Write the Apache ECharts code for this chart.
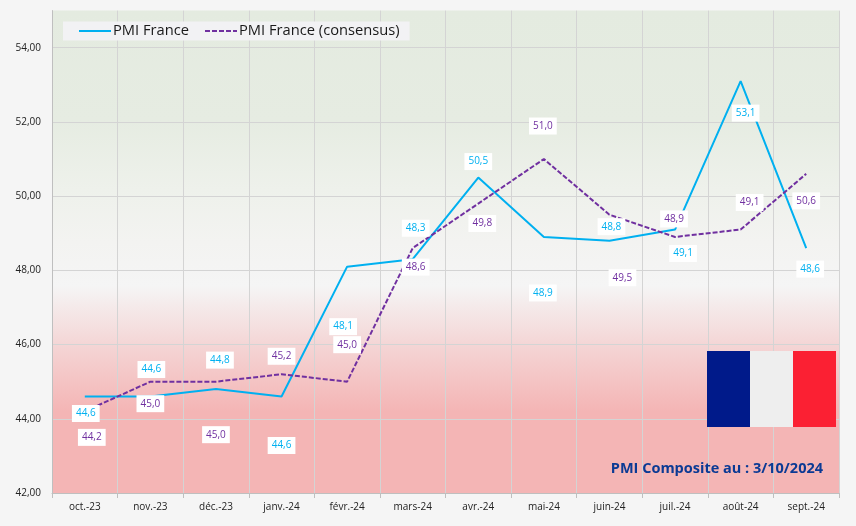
<!DOCTYPE html>
<html><head><meta charset="utf-8">
<style>html,body{margin:0;padding:0;background:#f5f5f5}#c{width:856px;height:526px}</style>
<script src="https://cdn.jsdelivr.net/npm/echarts@6/dist/echarts.min.js"></script>
</head><body><div id="c"></div>
<script>
const categories = ['oct.-23','nov.-23','déc.-23','janv.-24','févr.-24','mars-24','avr.-24','mai-24','juin-24','juil.-24','août-24','sept.-24'];
const pmiFrance = [44.6,44.6,44.8,44.6,48.1,48.3,50.5,48.9,48.8,49.1,53.1,48.6];
const pmiConsensus = [44.2,45.0,45.0,45.2,45.0,48.6,49.8,51.0,49.5,48.9,49.1,50.6];
const yTicks = {min:42,max:55,interval:2};
// label displacement from each point (the labels were hand-placed in the source chart)
const pmiLabelOffsets = [[1,17],[1,-27],[4,-29],[0,49],[-4,60],[3,-31],[0,-16],[-1,56],[2,-14],[8,24],[5,32],[4,21]];
const consensusLabelOffsets = [[7,26],[0,22],[0,53],[0,-18],[0,-37],[3,19],[4,20],[-1,-33],[13,63],[-1,-18],[9,-27],[0,27]];
const font = '"Open Sans","Noto Sans",sans-serif';
const BLUE='#00b0f0', PURPLE='#7030a0';
function makeLabel(color){
  return {show:true,position:'inside',color,backgroundColor:'#ffffff',fontFamily:font,fontSize:10,
    padding:[3.5,4,3.5,4],formatter:p=>p.value.toFixed(1).replace('.',',')};
}
function layoutFrom(offs){
  return p=>({dx:offs[p.dataIndex][0],dy:offs[p.dataIndex][1],hideOverlap:false});
}
const chart = echarts.init(document.getElementById('c'),null,{renderer:'canvas'});
chart.setOption({
  animation:false,
  backgroundColor:'#f5f5f5',
  grid:{left:52,right:17,top:10.6,bottom:33,show:true,borderWidth:0,
    backgroundColor:new echarts.graphic.LinearGradient(0,0,0,1,[
      {offset:0,color:'#e4ebe0'},{offset:0.23,color:'#e6ece2'},{offset:0.37,color:'#eef1eb'},{offset:0.48,color:'#f3f3f1'},
      {offset:0.57,color:'#f5f5f5'},{offset:0.695,color:'#f4d5d5'},{offset:0.83,color:'#f4b5b5'},{offset:1,color:'#f4b5b5'}])},
  legend:{left:63,top:21.5,padding:[2,10,2,15],itemGap:15,itemWidth:32,itemHeight:16,backgroundColor:'#f2f2f4',
    itemStyle:{opacity:0},
    textStyle:{fontFamily:font,fontSize:14.7,color:'#1a1a1a',padding:[0,0,0,-3]},data:['PMI France','PMI France (consensus)']},
  xAxis:{type:'category',data:categories,boundaryGap:true,
    axisLine:{show:true,lineStyle:{color:'#bfbfbf',width:1}},
    axisTick:{show:true,alignWithLabel:false,length:5,lineStyle:{color:'#bfbfbf'}},
    axisLabel:{interval:0,color:'#222',fontFamily:font,fontSize:10,margin:9},
    splitLine:{show:true,interval:0,lineStyle:{color:'#d4d4d4',width:1}}},
  yAxis:{type:'value',min:yTicks.min,max:yTicks.max,interval:yTicks.interval,
    axisLine:{show:true,lineStyle:{color:'#bfbfbf',width:1}},axisTick:{show:false},
    axisLabel:{color:'#222',fontFamily:font,fontSize:10,margin:11,showMaxLabel:false,
      formatter:v=>v.toFixed(2).replace('.',',')},
    splitLine:{show:true,showMaxLine:false,lineStyle:{color:'#d4d4d4',width:1}}},
  series:[
    {name:'PMI France',type:'line',data:pmiFrance,symbol:'circle',symbolSize:0,showSymbol:true,showAllSymbol:true,
      lineStyle:{color:BLUE,width:2},itemStyle:{color:BLUE},label:makeLabel(BLUE),labelLayout:layoutFrom(pmiLabelOffsets),z:3},
    {name:'PMI France (consensus)',type:'line',data:pmiConsensus,symbol:'circle',symbolSize:0,showSymbol:true,showAllSymbol:true,
      lineStyle:{color:PURPLE,width:2,type:[5,2]},itemStyle:{color:PURPLE},label:makeLabel(PURPLE),labelLayout:layoutFrom(consensusLabelOffsets),z:3}
  ],
  graphic:[
    {type:'rect',shape:{x:707,y:351,width:43,height:76},style:{fill:'#001a8a'},z:10},
    {type:'rect',shape:{x:750,y:351,width:43,height:76},style:{fill:'#eeeeee'},z:10},
    {type:'rect',shape:{x:793,y:351,width:43,height:76},style:{fill:'#fb2033'},z:10},
    {type:'text',right:33,top:461,style:{text:'PMI Composite au : 3/10/2024',fill:'#0b3a94',font:'bold 14.5px '+font},z:10}
  ]
});
</script></body></html>
